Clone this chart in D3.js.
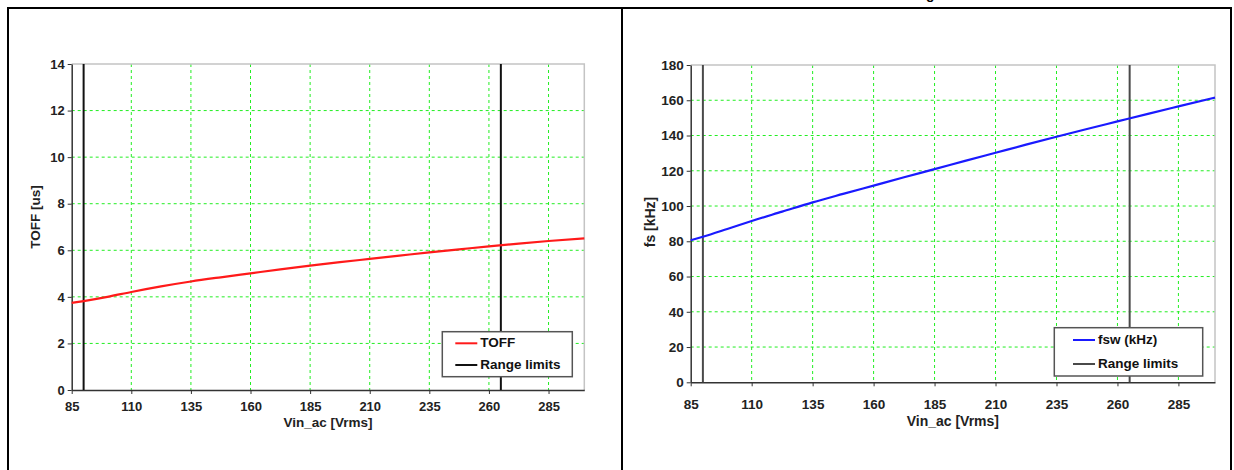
<!DOCTYPE html>
<html>
<head>
<meta charset="utf-8">
<script src="https://cdn.jsdelivr.net/npm/d3@7"></script>
<style>
  body { margin: 0; background: #fff; }
  svg { display: block; font-family: "Liberation Sans", Arial, sans-serif; }
</style>
</head>
<body>
<svg id="chart" width="1234" height="470"></svg>
<script>
// data
var vin = [85, 90, 100, 110, 122.5, 135, 147.5, 160, 172.5, 185, 197.5, 210, 222.5, 235, 247.5, 260, 272.5, 285, 300];
var toff = [3.74, 3.82, 4.0, 4.21, 4.45, 4.66, 4.84, 5.01, 5.18, 5.34, 5.49, 5.63, 5.77, 5.91, 6.04, 6.17, 6.29, 6.40, 6.51];
var fsw = [80.6, 82.6, 87.0, 91.5, 96.8, 102.1, 106.9, 111.6, 116.3, 120.9, 125.6, 130.2, 134.8, 139.3, 143.7, 148.0, 152.3, 156.5, 161.5];
var rangeLimits = [90, 265];
var xTicks = [85, 110, 135, 160, 185, 210, 235, 260, 285];
var toffTicks = [0, 2, 4, 6, 8, 10, 12, 14];
var fswTicks = [0, 20, 40, 60, 80, 100, 120, 140, 160, 180];

var svg = d3.select("#chart");

// panel borders
svg.append("path")
  .attr("d", "M8,480 V8 H1231 V480 M622,8 V480")
  .attr("fill", "none")
  .attr("stroke", "#000")
  .attr("stroke-width", 2);

// cut-off title text above the frame
svg.append("text").attr("x", 926).attr("y", -1).attr("font-size", 14).attr("font-weight", "bold").text("g");

function drawPanel(p) {
  var x = d3.scaleLinear().domain([85, 300]).range([p.left, p.right]);
  var y = d3.scaleLinear().domain(p.yDomain).range([p.bottom, p.top]);
  var g = svg.append("g");

  // grid
  g.selectAll(".gx").data(xTicks.slice(1)).enter().append("line")
    .attr("x1", function(d){ return x(d); }).attr("x2", function(d){ return x(d); })
    .attr("y1", p.top).attr("y2", p.bottom)
    .attr("stroke", "#22ee22").attr("stroke-dasharray", "3,3");
  g.selectAll(".gy").data(p.yTicks.slice(1, -1)).enter().append("line")
    .attr("y1", function(d){ return y(d); }).attr("y2", function(d){ return y(d); })
    .attr("x1", p.left).attr("x2", p.right)
    .attr("stroke", "#22ee22").attr("stroke-dasharray", "3,3");

  // frame top & right
  g.append("path")
    .attr("d", "M" + p.left + "," + p.top + " H" + p.right + " V" + p.bottom)
    .attr("fill", "none").attr("stroke", "#c4c4c4").attr("stroke-width", 1.5);

  // axes
  var ax = g.append("g").attr("transform", "translate(0," + p.bottom + ")")
    .call(d3.axisBottom(x).tickValues(xTicks).tickSize(4).tickSizeOuter(0));
  var ay = g.append("g").attr("transform", "translate(" + p.left + ",0)")
    .call(d3.axisLeft(y).tickValues(p.yTicks).tickSize(4).tickSizeOuter(0));
  [ax, ay].forEach(function(a){
    a.select(".domain").attr("stroke", "#333").attr("stroke-width", 1.5);
    a.selectAll(".tick line").attr("stroke", "#333");
    a.selectAll("text").attr("font-size", p.font).attr("font-weight", "bold")
      .attr("fill", "#222").attr("font-family", "Liberation Sans, Arial, sans-serif");
  });
  ax.selectAll("text").attr("dy", null).attr("y", p.xLabelY - p.bottom).attr("dominant-baseline", "middle");
  ay.selectAll("text").attr("x", -7);

  // range limits
  g.selectAll(".lim").data(rangeLimits).enter().append("line")
    .attr("x1", function(d){ return x(d); }).attr("x2", function(d){ return x(d); })
    .attr("y1", p.top).attr("y2", p.bottom)
    .attr("stroke", p.limitColor).attr("stroke-width", 2);

  // curve
  var line = d3.line().x(function(d){ return x(d[0]); }).y(function(d){ return y(d[1]); }).curve(d3.curveMonotoneX);
  g.append("path").datum(d3.zip(vin, p.values))
    .attr("d", line).attr("fill", "none")
    .attr("stroke", p.color).attr("stroke-width", 2.2);

  // titles
  g.append("text").attr("x", (p.left + p.right) / 2).attr("y", p.xTitleY)
    .attr("text-anchor", "middle").attr("dominant-baseline", "middle")
    .attr("font-size", p.font + 0.5).attr("font-weight", "bold").attr("fill", "#222")
    .text("Vin_ac [Vrms]");
  g.append("text").attr("transform", "translate(" + p.yTitleX + "," + p.yTitleY + ") rotate(-90)")
    .attr("text-anchor", "middle").attr("dominant-baseline", "middle")
    .attr("font-size", p.font + 0.5).attr("font-weight", "bold").attr("fill", "#222")
    .text(p.yTitle);

  // legend
  var L = p.legend;
  g.append("rect").attr("x", L.x).attr("y", L.y).attr("width", L.w).attr("height", L.h)
    .attr("fill", "#fff").attr("stroke", "#555").attr("stroke-width", 1.5);
  var items = [[p.name, p.color], ["Range limits", p.limitColor]];
  items.forEach(function(it, i){
    var yy = L.y + L.row0 + i * L.step;
    g.append("line").attr("x1", L.x + L.lx).attr("x2", L.x + L.lx + 22)
      .attr("y1", yy).attr("y2", yy).attr("stroke", it[1]).attr("stroke-width", 2);
    g.append("text").attr("x", L.x + L.lx + 25).attr("y", yy).attr("dominant-baseline", "middle")
      .attr("font-size", 13.5).attr("font-weight", "bold").attr("fill", "#111").text(it[0]);
  });
}

drawPanel({
  left: 71.7, right: 584.3, top: 64, bottom: 390,
  yDomain: [0, 14], yTicks: toffTicks, values: toff,
  color: "#ff1a1a", limitColor: "#111", name: "TOFF",
  yTitle: "TOFF [us]", yTitleX: 36, yTitleY: 217,
  xLabelY: 408, xTitleY: 423, font: 13,
  legend: {x: 442.3, y: 331.7, w: 130, h: 45, lx: 13, row0: 11.6, step: 21.7}
});

drawPanel({
  left: 690.7, right: 1215, top: 65, bottom: 382.3,
  yDomain: [0, 180], yTicks: fswTicks, values: fsw,
  color: "#1a1aff", limitColor: "#4a4a4a", name: "fsw (kHz)",
  yTitle: "fs [kHz]", yTitleX: 651, yTitleY: 222,
  xLabelY: 405.5, xTitleY: 422, font: 13.5,
  legend: {x: 1054.3, y: 327.7, w: 148.4, h: 48.3, lx: 18.7, row0: 12.3, step: 24}
});
</script>
</body>
</html>
